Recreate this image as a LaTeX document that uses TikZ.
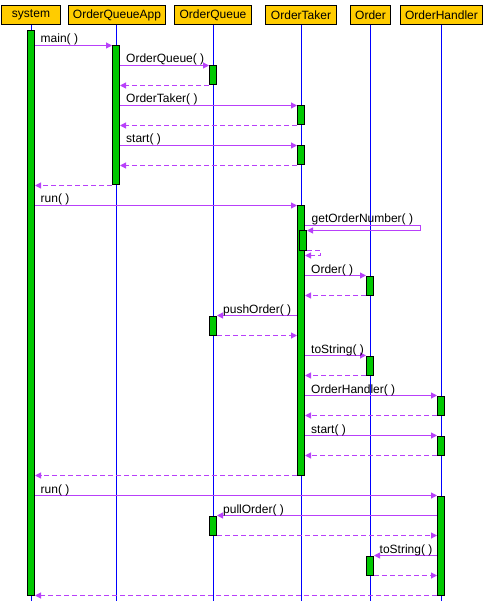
\documentclass[tikz,border=0pt]{standalone}
\usepackage{fontspec}
\setmainfont{Liberation Sans}
\usetikzlibrary{arrows.meta}
\definecolor{hdrfill}{RGB}{255,204,0}
\definecolor{barfill}{RGB}{0,200,0}
\definecolor{msgcol}{RGB}{184,64,250}
\definecolor{lifecol}{RGB}{0,0,255}
\tikzset{
  hdr/.style={draw=black, fill=hdrfill, line width=1pt, minimum height=19pt, inner sep=0pt, font=\fontsize{12}{14}\selectfont},
  life/.style={draw=lifecol, line width=1pt},
  actbar/.style={draw=black, fill=barfill, line width=1pt, minimum width=7pt, inner sep=0pt, anchor=north},
  msg/.style={draw=msgcol, line width=1pt, -{Triangle[length=6pt,width=6pt]}},
  ret/.style={msg, dash pattern=on 5pt off 3pt},
  lbl/.style={anchor=base west, inner sep=0pt, font=\fontsize{12}{14}\selectfont, text=black}
}
\begin{document}
\begin{tikzpicture}[x=1pt,y=-1pt]
\useasboundingbox (0,0) rectangle (492,601);
\fill[white] (0,0) rectangle (492,601);
\begin{scope}[xshift=0.5pt,yshift=-0.5pt]
% headers
\node[hdr, minimum width=59pt] (sys) at (30.5,14.5) {system};
\node[hdr, minimum width=97pt] (app) at (116.5,14.5) {OrderQueueApp};
\node[hdr, minimum width=77pt] (oq) at (212.5,14.5) {OrderQueue};
\node[hdr, minimum width=71pt] (ot) at (300.5,14.5) {OrderTaker};
\node[hdr, minimum width=40pt] (or) at (370,14.5) {Order};
\node[hdr, minimum width=82pt] (oh) at (441,14.5) {OrderHandler};
% lifelines
\coordinate (sysE) at (31,601);
\coordinate (appE) at (116,601);
\coordinate (oqE) at (213,601);
\coordinate (otE) at (301,601);
\coordinate (orE) at (370,601);
\coordinate (ohE) at (441,601);
\draw[life] (sys.south -| sysE) -- (sysE);
\draw[life] (app.south -| appE) -- (appE);
\draw[life] (oq.south -| oqE) -- (oqE);
\draw[life] (ot.south -| otE) -- (otE);
\draw[life] (or.south -| orE) -- (orE);
\draw[life] (oh.south -| ohE) -- (ohE);
% activation bars
\node[actbar, minimum height=564pt] (sysB) at (30.5,30) {};
\node[actbar, minimum height=139pt] (appB) at (115.5,45) {};
\node[actbar, minimum height=19pt] (oqB1) at (212.5,65) {};
\node[actbar, minimum height=19pt] (otB1) at (300.5,105) {};
\node[actbar, minimum height=19pt] (otB2) at (300.5,145) {};
\node[actbar, minimum height=269pt] (otB3) at (300.5,205) {};
\node[actbar, minimum height=19pt] (otN) at (302.5,230) {};
\node[actbar, minimum height=19pt] (orB1) at (369.5,275) {};
\node[actbar, minimum height=19pt] (oqB2) at (212.5,315) {};
\node[actbar, minimum height=19pt] (orB2) at (369.5,355) {};
\node[actbar, minimum height=19pt] (ohB1) at (440.5,395) {};
\node[actbar, minimum height=19pt] (ohB2) at (440.5,435) {};
\node[actbar, minimum height=99pt] (ohB3) at (440.5,495) {};
\node[actbar, minimum height=19pt] (oqB3) at (212.5,515) {};
\node[actbar, minimum height=19pt] (orB3) at (369.5,555) {};
% self-call helper points
\coordinate (gA) at (420,225);
\coordinate (gB) at (420,230);
\coordinate (rA) at (320,250);
\coordinate (rB) at (320,255);
% messages
\draw[msg] (sysB.east |- 0,45) -- (appB.north west);
\node[lbl] (l1) at (40,42.5) {main( )};
\draw[msg] (appB.east |- 0,65) -- (oqB1.north west);
\node[lbl] (l2) at (125.5,62.5) {OrderQueue( )};
\draw[ret] (oqB1.west |- 0,85) -- (appB.east |- 0,85);
\draw[msg] (appB.east |- 0,105) -- (otB1.north west);
\node[lbl] (l3) at (125.5,102.5) {OrderTaker( )};
\draw[ret] (otB1.west |- 0,125) -- (appB.east |- 0,125);
\draw[msg] (appB.east |- 0,145) -- (otB2.north west);
\node[lbl] (l4) at (125.5,142.5) {start( )};
\draw[ret] (otB2.west |- 0,165) -- (appB.east |- 0,165);
\draw[ret] (appB.west |- 0,185) -- (sysB.east |- 0,185);
\draw[msg] (sysB.east |- 0,205) -- (otB3.north west);
\node[lbl] (l5) at (40,202.5) {run( )};
\draw[msg] (otB3.east |- gA) -- (gA) -- (gB) -- (otN.east |- gB);
\node[lbl] (l6) at (311,222.5) {getOrderNumber( )};
\draw[ret] (otN.east |- rA) -- (rA) -- (rB) -- (otB3.east |- rB);
\draw[msg] (otB3.east |- 0,275) -- (orB1.north west);
\node[lbl] (l7) at (310.5,272.5) {Order( )};
\draw[ret] (orB1.west |- 0,295) -- (otB3.east |- 0,295);
\draw[msg] (otB3.west |- 0,315) -- (oqB2.north east);
\node[lbl] (l8) at (222.5,312.5) {pushOrder( )};
\draw[ret] (oqB2.east |- 0,335) -- (otB3.west |- 0,335);
\draw[msg] (otB3.east |- 0,355) -- (orB2.north west);
\node[lbl] (l9) at (310.5,352.5) {toString( )};
\draw[ret] (orB2.west |- 0,375) -- (otB3.east |- 0,375);
\draw[msg] (otB3.east |- 0,395) -- (ohB1.north west);
\node[lbl] (l10) at (310.5,392.5) {OrderHandler( )};
\draw[ret] (ohB1.west |- 0,415) -- (otB3.east |- 0,415);
\draw[msg] (otB3.east |- 0,435) -- (ohB2.north west);
\node[lbl] (l11) at (310.5,432.5) {start( )};
\draw[ret] (ohB2.west |- 0,455) -- (otB3.east |- 0,455);
\draw[ret] (otB3.west |- 0,475) -- (sysB.east |- 0,475);
\draw[msg] (sysB.east |- 0,495) -- (ohB3.north west);
\node[lbl] (l12) at (40,492.5) {run( )};
\draw[msg] (ohB3.west |- 0,515) -- (oqB3.north east);
\node[lbl] (l13) at (222.5,512.5) {pullOrder( )};
\draw[ret] (oqB3.east |- 0,535) -- (ohB3.west |- 0,535);
\draw[msg] (ohB3.west |- 0,555) -- (orB3.north east);
\node[lbl] (l14) at (379,552.5) {toString( )};
\draw[ret] (orB3.east |- 0,575) -- (ohB3.west |- 0,575);
\draw[ret] (ohB3.west |- 0,595) -- (sysB.east |- 0,595);
\end{scope}
\end{tikzpicture}
\end{document}
